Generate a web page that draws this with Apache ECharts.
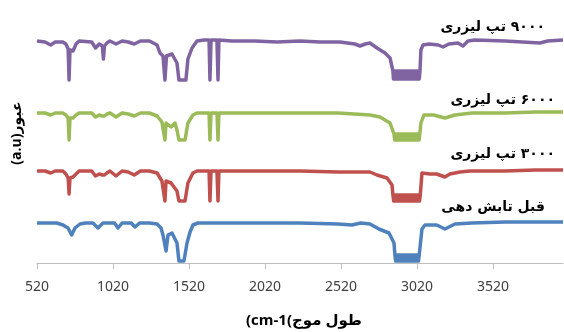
<!DOCTYPE html>
<html><head><meta charset="utf-8">
<script src="https://cdn.jsdelivr.net/npm/echarts@6/dist/echarts.min.js"></script>
<style>html,body{margin:0;padding:0;background:#fff}#c{width:564px;height:332px}</style>
</head><body><div id="c"></div>
<script>
// x tick labels (wavenumber, cm-1)
const tickValues = [520, 1020, 1520, 2020, 2520, 3020, 3520];
const xMin = 520, xMax = 3981;

// series names (Persian)
const seriesNames = ['۹۰۰۰ تپ لیزری', '۶۰۰۰ تپ لیزری', '۳۰۰۰ تپ لیزری', 'قبل تابش دهی'];
const xTitle = '(cm-1(طول موج';
const yTitle = '(a.u)عبور';

// transmittance (a.u., vertically offset) vs wavenumber
const pulses9000 = [[520,222],[573,221],[610,218],[640,221],[690,221],[710,219],[725,214],[731,183],[737,213],[757,212],[777,219],[797,222],[880,221],[905,215],[930,219],[950,217],[957,204],[964,217],[980,220],[1000,222],[1040,219],[1080,222],[1120,221],[1160,219],[1200,222],[1260,222],[1310,218],[1329,210],[1349,207],[1362,183],[1372,207],[1408,209],[1421,211],[1441,200],[1454,183],[1500,183],[1513,204],[1540,215],[1573,222],[1620,223],[1652,223],[1658,183],[1665,223],[1704,223],[1711,183],[1717,223],[1800,222],[1950,222],[2100,221],[2250,222],[2382,221],[2513,221],[2612,219],[2645,217],[2680,219],[2711,220],[2757,215],[2810,210],[2843,205],[2862,192],
  [2865,184],[2870,192],[2875,184],[2880,192],[2885,184],[2890,192],[2895,184],[2900,192],[2905,184],[2910,192],[2915,184],[2920,192],[2925,184],[2930,192],[2935,184],[2940,192],[2945,184],[2950,192],[2955,184],[2960,192],[2965,184],[2970,192],[2975,184],[2980,192],[2985,184],[2990,192],[2995,184],[3000,192],[3005,184],[3010,192],[3015,184],[3020,192],[3025,184],[3030,192],[3035,184],[3040,192],
  [3046,213],[3060,218],[3100,219],[3160,218],[3191,216],[3230,219],[3290,220],[3323,217],[3356,222],[3400,223],[3600,222],[3829,220],[3880,222],[3981,223]];
const pulses6000 = [[520,150],[573,150],[610,148],[640,150],[690,150],[710,148],[725,145],[731,123],[737,145],[757,145],[777,148],[797,150],[880,150],[905,146],[930,148],[950,147],[957,145],[964,147],[980,149],[1000,150],[1040,146],[1080,150],[1120,149],[1160,147],[1200,150],[1260,150],[1310,147],[1342,141],[1355,140],[1362,123],[1369,140],[1402,136],[1428,140],[1441,133],[1454,123],[1494,123],[1513,140],[1546,148],[1573,150],[1652,150],[1658,123],[1665,150],[1704,150],[1711,123],[1717,150],[1800,150],[2000,150],[2250,150],[2500,150],[2711,148],[2777,146],[2843,140],[2869,129],
  [2874,123],[2879,129],[2884,123],[2889,129],[2894,123],[2899,129],[2904,123],[2909,129],[2914,123],[2919,129],[2924,123],[2929,129],[2934,123],[2939,129],[2944,123],[2949,129],[2954,123],[2959,129],[2964,123],[2969,129],[2974,123],[2979,129],[2984,123],[2989,129],[2994,123],[2999,129],[3004,123],[3009,129],[3014,123],[3019,129],[3024,123],[3029,129],[3034,123],[3039,129],
  [3046,140],[3066,148],[3130,148],[3204,145],[3270,148],[3382,150],[3600,150],[3800,151],[3981,151]];
const pulses3000 = [[520,92],[573,92],[610,90],[640,92],[690,92],[710,89],[725,85],[731,69],[737,85],[757,86],[777,89],[797,92],[880,92],[905,87],[930,89],[950,88],[957,86],[964,88],[980,90],[1000,92],[1040,87],[1080,92],[1120,91],[1160,88],[1200,92],[1260,92],[1310,90],[1342,82],[1355,82],[1362,62],[1369,82],[1402,80],[1415,82],[1441,72],[1454,62],[1494,62],[1513,80],[1546,90],[1573,92],[1652,92],[1658,62],[1665,92],[1704,92],[1711,62],[1717,92],[1800,92],[2000,92],[2250,92],[2500,91],[2579,91],[2711,91],[2757,88],[2823,85],[2856,78],[2862,68],
  [2867,62],[2872,68],[2877,62],[2882,68],[2887,62],[2892,68],[2897,62],[2902,68],[2907,62],[2912,68],[2917,62],[2922,68],[2927,62],[2932,68],[2937,62],[2942,68],[2947,62],[2952,68],[2957,62],[2962,68],[2967,62],[2972,68],[2977,62],[2982,68],[2987,62],[2992,68],[2997,62],[3002,68],[3007,62],[3012,68],[3017,62],[3022,68],[3027,62],[3032,68],[3037,62],[3042,68],
  [3053,90],[3106,89],[3150,89],[3204,86],[3237,89],[3303,91],[3369,92],[3600,92],[3800,93],[3981,93]];
const beforeIrradiation = [[520,40],[600,40],[650,40],[691,38],[724,35],[748,28],[770,35],[803,39],[840,40],[888,40],[921,35],[954,40],[1000,40],[1030,40],[1053,35],[1080,40],[1140,40],[1165,36],[1195,40],[1260,40],[1310,39],[1336,35],[1349,28],[1369,12],[1382,28],[1408,30],[1421,31],[1441,20],[1454,2],[1487,2],[1507,20],[1527,31],[1546,38],[1579,40],[1800,40],[2000,40],[2250,40],[2500,39],[2592,38],[2650,40],[2711,39],[2770,34],[2836,30],[2869,20],[2875,8],
  [2880,2],[2885,8],[2890,2],[2895,8],[2900,2],[2905,8],[2910,2],[2915,8],[2920,2],[2925,8],[2930,2],[2935,8],[2940,2],[2945,8],[2950,2],[2955,8],[2960,2],[2965,8],[2970,2],[2975,8],[2980,2],[2985,8],[2990,2],[2995,8],[3000,2],[3005,8],[3010,2],[3015,8],[3020,2],[3025,8],[3030,2],[3035,8],
  [3053,34],[3073,38],[3150,38],[3204,34],[3270,39],[3382,40],[3600,41],[3800,41],[3981,41]];

const seriesData = [pulses9000, pulses6000, pulses3000, beforeIrradiation];
const colors = ['#8064A2', '#9BBB59', '#C0504D', '#4F81BD'];

const chart = echarts.init(document.getElementById('c'), null, {renderer: 'canvas'});
const labelPos = [[545, 27], [555, 100], [555, 154], [545, 207]];
const graphics = seriesNames.map((n, i) => ({
  type: 'text', x: labelPos[i][0], y: labelPos[i][1], z: 10,
  style: { text: '\u200F' + n, font: 'bold 14px "DejaVu Sans"', fill: '#000', align: 'right', verticalAlign: 'middle' }
}));
graphics.push({ type: 'text', x: 304, y: 321, z: 10,
  style: { text: xTitle, font: 'bold 15px "Open Sans","DejaVu Sans"', fill: '#000', align: 'center', verticalAlign: 'middle' } });
graphics.push({ type: 'text', x: 17, y: 133, rotation: Math.PI / 2, z: 10,
  style: { text: yTitle, font: 'bold 14px "Open Sans","DejaVu Sans"', fill: '#000', align: 'center', verticalAlign: 'middle' } });

chart.setOption({
  animation: false,
  backgroundColor: '#fff',
  grid: { left: 37, right: 1, top: 20, bottom: 69 },
  xAxis: {
    type: 'value', min: xMin, max: xMax,
    splitLine: { show: false },
    axisLine: { lineStyle: { color: '#BFBFBF', width: 1 } },
    axisTick: { show: true, length: 6, lineStyle: { color: '#BFBFBF' }, customValues: tickValues },
    axisLabel: { customValues: tickValues, margin: 17, color: '#404040', fontSize: 14, fontFamily: 'Noto Sans',
      formatter: v => String(v) }
  },
  yAxis: { type: 'value', min: 0, max: 243, show: false, splitLine: { show: false } },
  series: seriesData.map((d, i) => ({
    type: 'line', data: d, showSymbol: false, symbol: 'none',
    lineStyle: { width: 3.5, color: colors[i], join: 'round' },
    itemStyle: { color: colors[i] }
  })),
  graphic: graphics
});
</script></body></html>
